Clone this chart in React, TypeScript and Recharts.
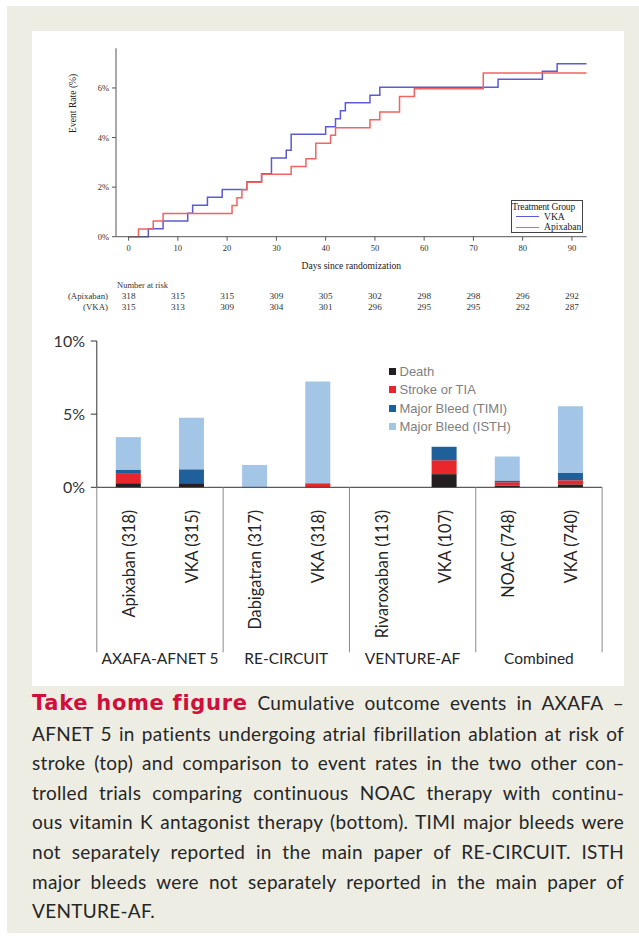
import React from "react";
import { LineChart, Line, XAxis, YAxis, Legend, Label, BarChart, Bar } from "recharts";

// ---- top panel: cumulative event rate (Kaplan-Meier style steps)
const riskDays = [0, 10, 20, 30, 40, 50, 60, 70, 80, 90];
const apixabanAtRisk = [318, 315, 315, 309, 305, 302, 298, 298, 296, 292];
const vkaAtRisk = [315, 313, 309, 304, 301, 296, 295, 295, 292, 287];
const treatmentOrder = ["VKA", "Apixaban"];

const vkaSteps = [
	{ day: 0, rate: 0 }, { day: 4, rate: 0.32 }, { day: 7, rate: 0.63 }, { day: 12, rate: 0.95 },
	{ day: 13, rate: 1.27 }, { day: 16, rate: 1.59 }, { day: 19, rate: 1.9 }, { day: 24, rate: 2.22 },
	{ day: 27, rate: 2.54 }, { day: 29, rate: 3.17 }, { day: 32, rate: 3.49 }, { day: 33, rate: 4.13 },
	{ day: 40, rate: 4.44 }, { day: 42, rate: 4.76 }, { day: 43, rate: 5.08 }, { day: 44, rate: 5.4 },
	{ day: 49, rate: 5.71 }, { day: 51, rate: 6.03 }, { day: 75, rate: 6.35 }, { day: 84, rate: 6.67 },
	{ day: 87, rate: 6.98 }, { day: 93, rate: 6.98 },
];
const apixabanSteps = [
	{ day: 0, rate: 0 }, { day: 2, rate: 0.31 }, { day: 5, rate: 0.63 }, { day: 7, rate: 0.94 },
	{ day: 21, rate: 1.26 }, { day: 22, rate: 1.57 }, { day: 23, rate: 1.89 }, { day: 24, rate: 2.2 },
	{ day: 27, rate: 2.52 }, { day: 33, rate: 2.83 }, { day: 36, rate: 3.14 }, { day: 38, rate: 3.77 },
	{ day: 41, rate: 4.09 }, { day: 42, rate: 4.4 }, { day: 49, rate: 4.72 }, { day: 51, rate: 5.03 },
	{ day: 55, rate: 5.66 }, { day: 58, rate: 5.97 }, { day: 72, rate: 6.6 }, { day: 93, rate: 6.6 },
];

// ---- bottom panel: stacked outcome rates
const categories = [
	"Apixaban (318)", "VKA (315)", "Dabigatran (317)", "VKA (318)",
	"Rivaroxaban (113)", "VKA (107)", "NOAC (748)", "VKA (740)",
];
const trials = [
	"AXAFA-AFNET 5", "AXAFA-AFNET 5", "RE-CIRCUIT", "RE-CIRCUIT",
	"VENTURE-AF", "VENTURE-AF", "Combined", "Combined",
];
const death = [0.28, 0.28, 0, 0, 0, 0.9, 0.1, 0.2];
const strokeTia = [0.64, 0, 0, 0.28, 0, 0.95, 0.25, 0.28];
const bleedTimi = [0.29, 0.95, 0, 0, 0, 0.92, 0.12, 0.52];
const bleedIsth = [2.22, 3.53, 1.53, 6.95, 0, 0, 1.64, 4.54];
const outcomeOrder = ["Death", "Stroke or TIA", "Major Bleed (TIMI)", "Major Bleed (ISTH)"];

const barData = categories.map((name, i) => ({
	name,
	trial: trials[i],
	death: death[i],
	stroke: strokeTia[i],
	timi: bleedTimi[i],
	isth: bleedIsth[i],
}));

const captionLines = [
	"AFNET 5 in patients undergoing atrial fibrillation ablation at risk of",
	"stroke (top) and comparison to event rates in the two other con-",
	"trolled trials comparing continuous NOAC therapy with continu-",
	"ous vitamin K antagonist therapy (bottom). TIMI major bleeds were",
	"not separately reported in the main paper of RE-CIRCUIT. ISTH",
	"major bleeds were not separately reported in the main paper of",
	"VENTURE-AF.",
];

const SERIF = '"Liberation Serif", "DejaVu Serif", serif';
const SANS = 'Lato, "Open Sans", sans-serif';
const CAT_AXIS_H = 165;

const inOrder = (payload: any[], order: string[]) =>
	[...(payload || [])].sort((a, b) => order.indexOf(a.value) - order.indexOf(b.value));

const TreatmentLegend = ({ payload }: any) => (
	<div
		style={{
			width: 72,
			height: 33,
			boxSizing: "border-box",
			border: "1px solid #444",
			background: "#fff",
			fontFamily: SERIF,
			fontSize: 9.6,
			color: "#222",
			lineHeight: "10.2px",
			overflow: "hidden",
			whiteSpace: "nowrap",
			paddingTop: 0.5,
		}}
	>
		<div style={{ letterSpacing: -0.2 }}>Treatment Group</div>
		{inOrder(payload, treatmentOrder).map((p: any) => (
			<div key={p.value} style={{ display: "flex", alignItems: "center" }}>
				<span
					style={{
						display: "inline-block",
						width: 23,
						borderTop: `1.4px solid ${p.color}`,
						marginLeft: 4,
						marginRight: 5,
					}}
				/>
				{p.value}
			</div>
		))}
	</div>
);

const OutcomeLegend = ({ payload }: any) => (
	<div style={{ fontFamily: '"Liberation Sans", Arial, sans-serif', fontSize: 13, color: "#808080" }}>
		{inOrder(payload, outcomeOrder).map((p: any) => (
			<div key={p.value} style={{ display: "flex", alignItems: "center", height: 18.3 }}>
				<span
					style={{ display: "inline-block", width: 7, height: 7, background: p.color, marginRight: 4 }}
				/>
				{p.value}
			</div>
		))}
	</div>
);

const CategoryTick = ({ x, y, payload }: any) => (
	<text
		x={x}
		y={y + 14.5}
		transform={`rotate(-90, ${x}, ${y + 14.5})`}
		textAnchor="end"
		dominantBaseline="central"
		fontFamily={SANS}
		fontSize={16.3}
		fill="#262626"
	>
		{payload.value}
	</text>
);

const TrialTick = ({ x, y, payload, index, visibleTicksCount, width }: any) => {
	const band = payload.offset ? payload.offset * 2 : width / visibleTicksCount;
	const left = x - band / 2;
	const right = x + band / 2;
	return (
		<g>
			<line x1={left} x2={left} y1={y - CAT_AXIS_H} y2={y} stroke="#8a8a8a" strokeWidth={1} />
			{index === visibleTicksCount - 1 && (
				<line x1={right} x2={right} y1={y - CAT_AXIS_H} y2={y} stroke="#8a8a8a" strokeWidth={1} />
			)}
			<text
				x={x}
				y={y + 6}
				textAnchor="middle"
				dominantBaseline="central"
				fontFamily={SANS}
				fontSize={15.5}
				fill="#262626"
			>
				{payload.value}
			</text>
		</g>
	);
};

const serifTick = { fontSize: 8.5, fill: "#333", fontFamily: SERIF };

export default function App() {
	return (
		<div style={{ position: "absolute", left: 0, top: 0, width: 639, height: 940, background: "#fff", overflow: "hidden" }}>
			<div style={{ position: "absolute", left: 7, top: 6, width: 632, height: 927, background: "#eeede3" }} />
			<div style={{ position: "absolute", left: 32, top: 31, width: 592, height: 655, background: "#fff" }} />

			<div style={{ position: "absolute", left: 0, top: 0 }}>
				<LineChart width={620} height={320} margin={{ top: 48.3, right: 33.3, left: 0, bottom: 9.3 }}>
					<XAxis
						dataKey="day"
						type="number"
						domain={[-2.56, 93]}
						allowDataOverflow
						ticks={riskDays}
						height={36}
						stroke="#555"
						tickSize={4}
						tickMargin={4.3}
						tick={serifTick}
					>
						<Label
							value="Days since randomization"
							position="insideBottom"
							offset={3.7}
							style={{ fontSize: 9.6, fill: "#222", fontFamily: SERIF }}
						/>
					</XAxis>
					<XAxis
						xAxisId="riskA"
						dataKey="day"
						type="number"
						domain={[-2.56, 93]}
						allowDataOverflow
						ticks={riskDays}
						height={24}
						axisLine={false}
						tickLine={false}
						tickSize={0}
						tickMargin={19.6}
						tickFormatter={(_v: number, i: number) => String(apixabanAtRisk[i])}
						tick={{ fontSize: 9.2, fill: "#333", fontFamily: SERIF }}
					>
						<Label
							value="Number at risk"
							position="insideTopLeft"
							offset={1}
							dy={8.3}
							style={{ fontSize: 8.5, fill: "#333", fontFamily: SERIF }}
						/>
						<Label
							value="(Apixaban)"
							position="left"
							offset={8}
							dy={10.8}
							style={{ fontSize: 8.8, fill: "#333", fontFamily: SERIF }}
						/>
					</XAxis>
					<XAxis
						xAxisId="riskV"
						dataKey="day"
						type="number"
						domain={[-2.56, 93]}
						allowDataOverflow
						ticks={riskDays}
						height={14}
						axisLine={false}
						tickLine={false}
						tickSize={0}
						tickMargin={6.6}
						tickFormatter={(_v: number, i: number) => String(vkaAtRisk[i])}
						tick={{ fontSize: 9.2, fill: "#333", fontFamily: SERIF }}
					>
						<Label
							value="(VKA)"
							position="left"
							offset={8}
							dy={2.8}
							style={{ fontSize: 8.8, fill: "#333", fontFamily: SERIF }}
						/>
					</XAxis>
					<YAxis
						type="number"
						domain={[0, 7.6]}
						ticks={[0, 2, 4, 6]}
						width={116}
						stroke="#555"
						tickSize={4}
						tickMargin={3}
						tick={serifTick}
						tickFormatter={(v: number) => `${v}%`}
					>
						<Label
							value="Event Rate (%)"
							position="center"
							angle={-90}
							dx={14.5}
							dy={-39.2}
							style={{ fontSize: 9.6, fill: "#222", fontFamily: SERIF }}
						/>
					</YAxis>
					<Legend
						layout="horizontal"
						verticalAlign="middle"
						align="center"
						wrapperStyle={{ position: "absolute", left: 511, top: 200, width: 72 }}
						content={<TreatmentLegend />}
					/>
					<Line
						name="VKA"
						data={vkaSteps}
						dataKey="rate"
						type="stepAfter"
						stroke="#5b5bd2"
						strokeWidth={1.5}
						dot={false}
						isAnimationActive={false}
					/>
					<Line
						name="Apixaban"
						data={apixabanSteps}
						dataKey="rate"
						type="stepAfter"
						stroke="#f46262"
						strokeWidth={1.5}
						dot={false}
						isAnimationActive={false}
					/>
				</LineChart>
			</div>

			<div style={{ position: "absolute", left: 0, top: 320 }}>
				<BarChart
					width={630}
					height={360}
					data={barData}
					margin={{ top: 21, right: 27.9, left: 0, bottom: 3.7 }}
				>
					<XAxis
						dataKey="name"
						height={CAT_AXIS_H}
						stroke="#333"
						tickLine={false}
						interval={0}
						tick={<CategoryTick />}
					/>
					<XAxis
						xAxisId="trial"
						dataKey="trial"
						allowDuplicatedCategory={false}
						height={24}
						axisLine={false}
						tickLine={false}
						tickSize={0}
						tickMargin={0}
						interval={0}
						tick={<TrialTick />}
					/>
					<YAxis
						type="number"
						domain={[0, 10]}
						ticks={[0, 5, 10]}
						width={96.8}
						stroke="#333"
						tickSize={6}
						tickMargin={5.8}
						tick={{ fontSize: 16, fill: "#333", fontFamily: SANS }}
						tickFormatter={(v: number) => `${v}%`}
					/>
					<Legend
						layout="horizontal"
						verticalAlign="middle"
						align="center"
						wrapperStyle={{ position: "absolute", left: 388.5, top: 42.5, width: 140 }}
						content={<OutcomeLegend />}
					/>
					<Bar name="Death" dataKey="death" stackId="s" fill="#231f20" barSize={25} isAnimationActive={false} />
					<Bar name="Stroke or TIA" dataKey="stroke" stackId="s" fill="#e92629" barSize={25} isAnimationActive={false} />
					<Bar name="Major Bleed (TIMI)" dataKey="timi" stackId="s" fill="#1f5f9a" barSize={25} isAnimationActive={false} />
					<Bar name="Major Bleed (ISTH)" dataKey="isth" stackId="s" fill="#a3c5e6" barSize={25} isAnimationActive={false} />
				</BarChart>
			</div>

			<div
				style={{
					position: "absolute",
					left: 32,
					top: 688,
					width: 592,
					fontFamily: SANS,
					fontSize: 19,
					letterSpacing: 0.3,
					color: "#262626",
					lineHeight: "29.6px",
				}}
			>
				<div style={{ whiteSpace: "nowrap", textAlign: "justify", textAlignLast: "justify" }}>
					<span
						style={{
							display: "inline-block",
							fontFamily: '"DejaVu Sans", sans-serif',
							fontWeight: 700,
							fontSize: 21,
							letterSpacing: 0.7,
							color: "#d0103a",
						}}
					>
						Take home figure
					</span>{" "}
					Cumulative outcome events in AXAFA –
				</div>
				{captionLines.map((line, i) => (
					<div
						key={i}
						style={{
							whiteSpace: "nowrap",
							textAlign: "justify",
							textAlignLast: i === captionLines.length - 1 ? "left" : "justify",
						}}
					>
						{line}
					</div>
				))}
			</div>
		</div>
	);
}
